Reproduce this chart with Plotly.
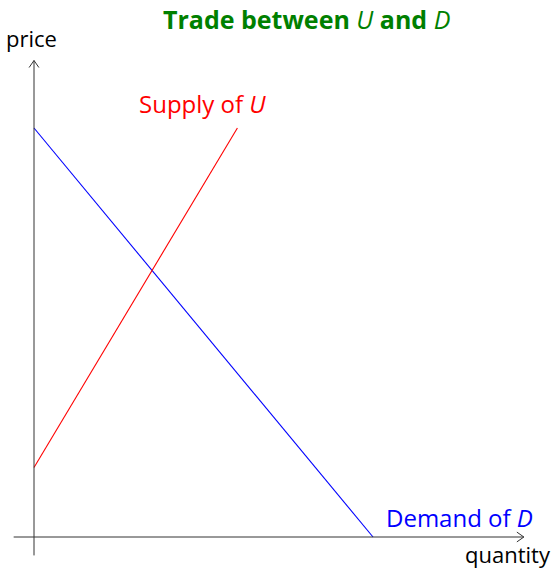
import plotly.graph_objects as go

# data (model units)
demand_q = [0, 10]
demand_p = [10, 0]
supply_q = [0, 6]
supply_p = [1.7, 10]

x_axis = [-0.6, 14.45]
y_axis = [-0.45, 11.65]

W, H = 558, 569
ox, oy = 34, 537  # origin pixel
ux, uy = 33.9, 40.9  # px per unit
xr = [-ox / ux, (W - ox) / ux]
yr = [-(H - oy) / uy, oy / uy]

FONT = "Open Sans"
fig = go.Figure()
fig.add_trace(go.Scatter(x=demand_q, y=demand_p, mode="lines", line=dict(color="#0000ff", width=1.1), hoverinfo="skip"))
fig.add_trace(go.Scatter(x=supply_q, y=supply_p, mode="lines", line=dict(color="#ff0000", width=1.1), hoverinfo="skip"))

axc = "#333333"
fig.add_trace(go.Scatter(x=x_axis, y=[0, 0], mode="lines", line=dict(color=axc, width=1), hoverinfo="skip"))
fig.add_trace(go.Scatter(x=[0, 0], y=y_axis, mode="lines", line=dict(color=axc, width=1), hoverinfo="skip"))
ah = 7  # px
fig.add_trace(go.Scatter(x=[x_axis[1] - ah / ux, x_axis[1], x_axis[1] - ah / ux], y=[ah * 0.7 / uy, 0, -ah * 0.7 / uy],
                         mode="lines", line=dict(color=axc, width=1), hoverinfo="skip"))
fig.add_trace(go.Scatter(x=[-ah * 0.7 / ux, 0, ah * 0.7 / ux], y=[y_axis[1] - ah / uy, y_axis[1], y_axis[1] - ah / uy],
                         mode="lines", line=dict(color=axc, width=1), hoverinfo="skip"))

anns = [
    dict(x=-0.06, y=12.2, text="price", font=dict(color="black", size=22), xanchor="center"),
    dict(x=15.31, y=-0.42, text="quantity", font=dict(color="black", size=22), xanchor="right"),
    dict(x=4.96, y=10.6, text="Supply of <i>U</i>", font=dict(color="#ff0000", size=24), xanchor="center"),
    dict(x=12.55, y=0.47, text="Demand of <i>D</i>", font=dict(color="#0000ff", size=24), xanchor="center"),
]
for a in anns:
    a["font"]["family"] = FONT
    fig.add_annotation(showarrow=False, xref="x", yref="y", yanchor="middle", **a)

fig.add_annotation(x=306 / W, y=1 - 19 / H, xref="paper", yref="paper", xanchor="center", yanchor="middle",
                   text="<b>Trade between </b><i>U</i><b> and </b><i>D</i>", showarrow=False,
                   font=dict(family=FONT, size=25, color="#008000"))

fig.update_layout(width=W, height=H, margin=dict(l=0, r=0, t=0, b=0), showlegend=False,
                  plot_bgcolor="white", paper_bgcolor="white",
                  xaxis=dict(range=xr, visible=False, fixedrange=True),
                  yaxis=dict(range=yr, visible=False, fixedrange=True))
fig.write_html("out.html", config={"displayModeBar": False}, post_script="document.body.style.margin='0';")
